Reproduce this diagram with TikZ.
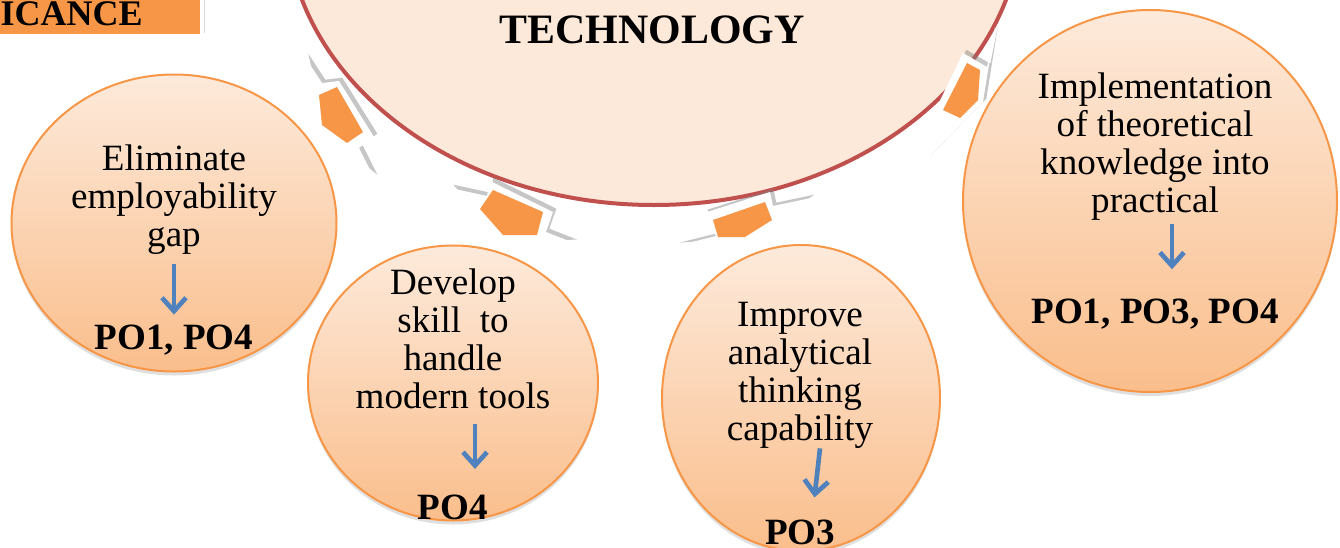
\documentclass[tikz,border=0pt]{standalone}
\usepackage{fontspec}
\setmainfont{Liberation Serif}
\usetikzlibrary{shapes.geometric,shadows,arrows.meta}
\definecolor{accent}{RGB}{247,150,70}
\definecolor{hubred}{RGB}{192,80,77}
\definecolor{hubfill}{RGB}{253,233,217}
\definecolor{goaltop}{RGB}{253,234,219}
\definecolor{goalbot}{RGB}{250,190,140}
\definecolor{poblue}{RGB}{79,129,189}
\tikzset{
	hub/.style={ellipse, draw=hubred, line width=3pt, fill=hubfill, inner sep=0pt, outer sep=0pt},
	goal/.style={ellipse, draw=accent, line width=1.5pt, top color=goaltop, bottom color=goalbot, inner sep=0pt, outer sep=0pt,
		drop shadow={opacity=0.25, shadow xshift=0pt, shadow yshift=-3pt}},
	goaltext/.style={align=center, inner sep=0pt, font=\fontsize{27.8}{28.5}\selectfont},
	po/.style={inner sep=0pt, font=\fontsize{27.8}{28.5}\selectfont\bfseries},
	poarrow/.style={draw=poblue, line width=3.5pt, -{Straight Barb[length=10pt,width=18pt]}},
	linkouter/.style={fill=white, draw=none, drop shadow={opacity=0.45, shadow xshift=2.5pt, shadow yshift=2.5pt}},
	linkinner/.style={fill=accent, draw=none}
}
\begin{document}
\begin{tikzpicture}[x=0.75pt,y=0.75pt,yscale=-1,xscale=1]
	\useasboundingbox (0,0) rectangle (1340,547);

	% title box, cut at the page corner
	\draw [white, line width=3.5pt, fill=accent, drop shadow={opacity=0.3, shadow xshift=2pt, shadow yshift=2pt}] (-20,-20) rectangle (202,36) ;
	\node [anchor=base east, inner sep=0pt, font=\fontsize{27}{28}\selectfont\bfseries] (sig) at (143,25) {ICANCE};

	% centre
	\node [hub, minimum width=552pt, minimum height=435pt] (hub) at (654,-85) {};
	\node [inner sep=0pt, font=\fontsize{31.4}{33}\selectfont\bfseries] (tech) at (652,30) {TECHNOLOGY};

	% links
	\path [linkouter] (305,57) -- (322,83) -- (339,81) -- (374,137) -- (359,148) -- (374,178) -- (316,131) -- (313,93) -- cycle ;
	\path [linkinner] (319,95) -- (337,87) -- (363,132) -- (347,143) -- (322,125) -- cycle ;
	\path [linkouter] (450,188) -- (487,196) -- (490,181) -- (553,212) -- (546,232) -- (574,243) -- (498,244) -- cycle ;
	\path [linkinner] (493,190) -- (543,212) -- (537,235) -- (503,235) -- (480,209) -- cycle ;
	\path [linkouter] (811,198) -- (773,206) -- (770,192) -- (704,213) -- (716,236) -- (676,246) -- (750,241) -- cycle ;
	\path [linkinner] (713,220) -- (765,202) -- (772,220) -- (745,237) -- (718,237) -- cycle ;
	\path [linkouter] (995,27) -- (987,67) -- (963,53) -- (932,117) -- (943,121) -- (928,158) -- (983,102) -- cycle ;
	\path [linkinner] (967,63) -- (980,70) -- (978,100) -- (960,118) -- (943,110) -- cycle ;

	% goals
	\node [goal, minimum width=243.75pt, minimum height=222.75pt] (c1) at (174,223) {};
	\node [goal, minimum width=217.5pt, minimum height=206.25pt] (c2) at (453,383) {};
	\node [goal, minimum width=208.5pt, minimum height=229.5pt] (c3) at (801,398) {};
	\node [goal, minimum width=280.5pt, minimum height=286.5pt] (c4) at (1150,201) {};

	\node [goaltext] (t1) at (174,200) {Eliminate\\employability\\gap};
	\node [po] (p1) at (174,340) {PO1, PO4};
	\draw [poarrow, shorten <=6.5pt, shorten >=7.5pt] (t1.south) -- (p1.north) ;

	\node [goaltext] (t2) at (453,339) {Develop\\skill~ to\\handle\\modern tools};
	\node [po] (p2) at (453,507) {PO4};
	\draw [poarrow, shorten <=11pt, shorten >=19pt] ([xshift=16.5pt]t2.south) -- ([xshift=16.5pt]p2.north) ;

	\node [goaltext] (t3) at (800,375) {Improve\\analytical\\thinking\\capability};
	\node [po] (p3) at (800,532) {PO3};
	\draw [poarrow, shorten <=0pt, shorten >=16.5pt] ([xshift=15pt]t3.south) -- ([xshift=9pt]p3.north) ;

	\node [goaltext] (t4) at (1155,147) {Implementation\\of theoretical\\knowledge into\\practical};
	\node [po] (p4) at (1155,314) {PO1, PO3, PO4};
	\draw [poarrow, shorten <=2pt, shorten >=22pt] ([xshift=12.75pt]t4.south) -- ([xshift=12.75pt]p4.north) ;
\end{tikzpicture}
\end{document}
